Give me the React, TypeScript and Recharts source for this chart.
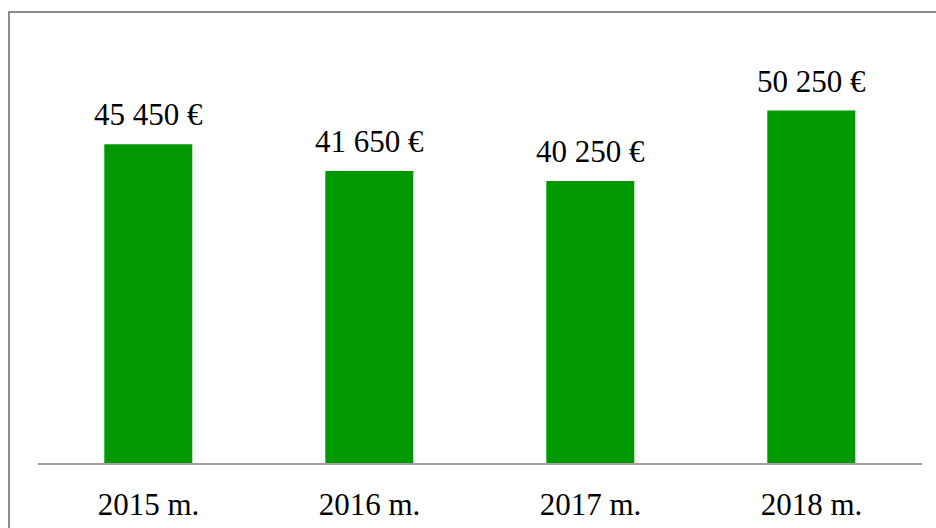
import React from "react";
import { BarChart, Bar, XAxis, YAxis } from "recharts";

const categories = ["2015 m.", "2016 m.", "2017 m.", "2018 m."];
const values = [45450, 41650, 40250, 50250];

const data = categories.map((c, i) => ({ name: c, value: values[i] }));

const fmt = (v: any) => {
  const n = Number(v);
  const s = String(Math.round(n));
  return s.replace(/\B(?=(\d{3})+(?!\d))/g, " ") + " €";
};

const FONT = '"Liberation Serif", "Times New Roman", serif';

const renderLabel = (props: any) => {
  const { x, y, width, value } = props;
  return (
    <text
      x={Number(x) + Number(width) / 2}
      y={Number(y) - 19}
      textAnchor="middle"
      fill="#000"
      fontSize={31}
      fontFamily={FONT}
    >
      {fmt(value)}
    </text>
  );
};

export default function App() {
  return (
    <div>
      <style>{`html,body{margin:0;overflow:hidden;background:#fff}`}</style>
      <div
        style={{
          position: "absolute",
          left: 8,
          top: 11,
          width: 960,
          height: 560,
          border: "2px solid #8c8c8c",
          boxSizing: "border-box",
        }}
      />
      <div style={{ position: "absolute", left: 0, top: 0, fontFamily: FONT }}>
        <BarChart
          width={936}
          height={528}
          data={data}
          margin={{ top: 42, right: 14, bottom: 0, left: 38 }}
          barCategoryGap="30%"
        >
          <YAxis hide domain={[0, 60000]} />
          <XAxis
            dataKey="name"
            height={64}
            axisLine={{ stroke: "#a0a0a0", strokeWidth: 2 }}
            tickLine={false}
            tickSize={0}
            tickMargin={29}
            tick={{ fill: "#000", fontSize: 31, fontFamily: FONT }}
            interval={0}
          />
          <Bar
            dataKey="value"
            fill="#009900"
            isAnimationActive={false}
            label={renderLabel}
          />
        </BarChart>
      </div>
    </div>
  );
}
